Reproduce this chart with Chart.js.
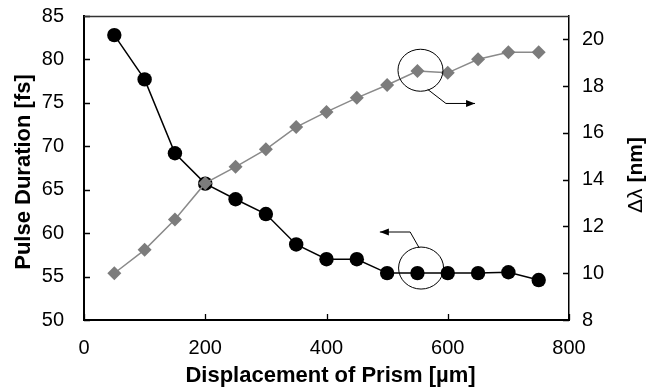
<!DOCTYPE html>
<html>
<head>
<meta charset="utf-8">
<script src="https://cdn.jsdelivr.net/npm/chart.js@4.4.1/dist/chart.umd.min.js"></script>
<style>
  html, body { margin: 0; padding: 0; background: #fff; }
  #wrap { width: 662px; height: 391px; }
</style>
</head>
<body>
<div id="wrap"><canvas id="c" width="662" height="391"></canvas></div>
<script>
// Displacement of prism, µm
const displacement = [50, 100, 150, 200, 250, 300, 350, 400, 450, 500, 550, 600, 650, 700, 750];
// Pulse duration, fs (left axis, black circles)
const pulseDuration = [82.8, 77.7, 69.2, 65.7, 63.9, 62.2, 58.7, 57.0, 57.0, 55.4, 55.4, 55.4, 55.4, 55.5, 54.6];
// Spectral width Δλ, nm (right axis, grey diamonds)
const deltaLambda = [10.0, 11.0, 12.3, 13.85, 14.55, 15.3, 16.25, 16.9, 17.5, 18.05, 18.65, 18.57, 19.15, 19.45, 19.45];

const xTicks = [0, 200, 400, 600, 800];
const yTicks = [50, 55, 60, 65, 70, 75, 80, 85];
const y2Ticks = [8, 10, 12, 14, 16, 18, 20];

// Callouts: ellipse centre + leader polyline, in data units (axis id given)
const callouts = [
  { axis: 'y2', cx: 555, cy: 18.68, path: [[567, 17.86], [597, 17.26], [645, 17.26]] },
  { axis: 'y', cx: 556, cy: 55.98, path: [[553, 58.29], [538, 60.13], [488, 60.13]] },
];

const FONT = '"Liberation Sans", Arial, Helvetica, sans-serif';

const pts = (ys) => displacement.map((x, i) => ({ x, y: ys[i] }));
const fixTicks = (arr) => (scale) => { scale.ticks = arr.map((v) => ({ value: v })); };

// inner tick marks, top frame, callouts and axis titles
const decor = {
  id: 'decor',
  afterDraw(chart) {
    const { ctx, chartArea: a, scales } = chart;
    ctx.save();
    ctx.strokeStyle = '#000';
    ctx.lineWidth = 1.3;
    ctx.beginPath();
    for (const v of xTicks) { const p = Math.round(scales.x.getPixelForValue(v)) + 0.5; ctx.moveTo(p, a.bottom); ctx.lineTo(p, a.bottom - 6); }
    for (const v of yTicks) { const p = Math.round(scales.y.getPixelForValue(v)) + 0.5; ctx.moveTo(a.left, p); ctx.lineTo(a.left + 6, p); }
    for (const v of y2Ticks) { const p = Math.round(scales.y2.getPixelForValue(v)) + 0.5; ctx.moveTo(a.right, p); ctx.lineTo(a.right - 6, p); }
    ctx.stroke();

    ctx.strokeStyle = '#333';
    ctx.lineWidth = 1.5;
    ctx.beginPath();
    ctx.moveTo(a.left, a.top + 0.5); ctx.lineTo(a.right, a.top + 0.5);
    ctx.stroke();

    // callouts
    ctx.strokeStyle = '#000';
    ctx.fillStyle = '#000';
    ctx.lineWidth = 1;
    for (const c of callouts) {
      const ys = scales[c.axis];
      ctx.beginPath();
      ctx.ellipse(scales.x.getPixelForValue(c.cx), ys.getPixelForValue(c.cy), 22.5, 21, 0, 0, Math.PI * 2);
      ctx.stroke();
      const pp = c.path.map(([x, y]) => [scales.x.getPixelForValue(x), ys.getPixelForValue(y)]);
      ctx.beginPath();
      pp.forEach(([x, y], i) => (i ? ctx.lineTo(x, y) : ctx.moveTo(x, y)));
      ctx.stroke();
      const [tx, ty] = pp[pp.length - 1];
      const [px] = pp[pp.length - 2];
      const d = tx > px ? 1 : -1;
      ctx.beginPath();
      ctx.moveTo(tx, ty); ctx.lineTo(tx - d * 9, ty - 3.5); ctx.lineTo(tx - d * 9, ty + 3.5);
      ctx.closePath();
      ctx.fill();
    }

    // titles
    ctx.fillStyle = '#000';
    ctx.textBaseline = 'middle';
    ctx.textAlign = 'center';
    ctx.font = `bold 22px ${FONT}`;
    ctx.fillText('Displacement of Prism [µm]', (a.left + a.right) / 2 + 4, 376);

    ctx.save();
    ctx.translate(24, (a.top + a.bottom) / 2 + 4);
    ctx.rotate(-Math.PI / 2);
    ctx.fillText('Pulse Duration [fs]', 0, 0);
    ctx.restore();

    ctx.save();
    ctx.translate(636, (a.top + a.bottom) / 2 + 7);
    ctx.rotate(-Math.PI / 2);
    ctx.textAlign = 'left';
    const p1 = 'Δλ', p2 = ' [nm]';
    ctx.font = `21px ${FONT}`;
    const w1 = ctx.measureText(p1).width;
    ctx.font = `bold 21px ${FONT}`;
    const w2 = ctx.measureText(p2).width;
    const x0 = -(w1 + w2) / 2;
    ctx.font = `21px ${FONT}`;
    ctx.fillText(p1, x0, 0);
    ctx.font = `bold 21px ${FONT}`;
    ctx.fillText(p2, x0 + w1, 0);
    ctx.restore();

    ctx.restore();
  },
};

const noPadY = (w) => (s) => { s.width = w; s.paddingTop = 0; s.paddingBottom = 0; };

new Chart(document.getElementById('c'), {
  type: 'line',
  data: {
    datasets: [
      {
        label: 'Δλ',
        data: pts(deltaLambda),
        yAxisID: 'y2',
        order: 0,
        borderColor: '#8a8a8a',
        borderWidth: 1.5,
        backgroundColor: '#7c7c7c',
        pointStyle: 'rectRot',
        pointRadius: 7,
        pointBorderWidth: 0,
        pointBackgroundColor: '#7c7c7c',
        tension: 0,
      },
      {
        label: 'Pulse duration',
        data: pts(pulseDuration),
        yAxisID: 'y',
        order: 1,
        borderColor: '#000',
        borderWidth: 1.5,
        backgroundColor: '#000',
        pointStyle: 'circle',
        pointRadius: 7.2,
        pointBorderWidth: 0,
        pointBackgroundColor: '#000',
        tension: 0,
      },
    ],
  },
  options: {
    responsive: false,
    animation: false,
    events: [],
    layout: { padding: { top: 16, left: 0, right: 0, bottom: 0 } },
    plugins: { legend: { display: false }, tooltip: { enabled: false } },
    scales: {
      x: {
        type: 'linear',
        min: 0, max: 800,
        afterBuildTicks: fixTicks(xTicks),
        afterFit: (s) => { s.height = 71; s.paddingLeft = 0; s.paddingRight = 0; },
        grid: { display: false, drawTicks: false },
        border: { display: true, color: '#000', width: 2 },
        ticks: { color: '#000', font: { family: FONT, size: 20 }, padding: 16, maxRotation: 0 },
      },
      y: {
        position: 'left',
        min: 50, max: 85,
        afterBuildTicks: fixTicks(yTicks),
        afterFit: noPadY(84),
        grid: { display: false, drawTicks: false },
        border: { display: true, color: '#000', width: 2 },
        ticks: { color: '#000', font: { family: FONT, size: 20 }, padding: 20 },
      },
      y2: {
        position: 'right',
        min: 8, max: 21,
        afterBuildTicks: fixTicks(y2Ticks),
        afterFit: noPadY(93),
        grid: { display: false, drawTicks: false },
        border: { display: true, color: '#000', width: 1.5 },
        ticks: { color: '#000', font: { family: FONT, size: 20 }, padding: 13 },
      },
    },
  },
  plugins: [decor],
});
</script>
</body>
</html>
